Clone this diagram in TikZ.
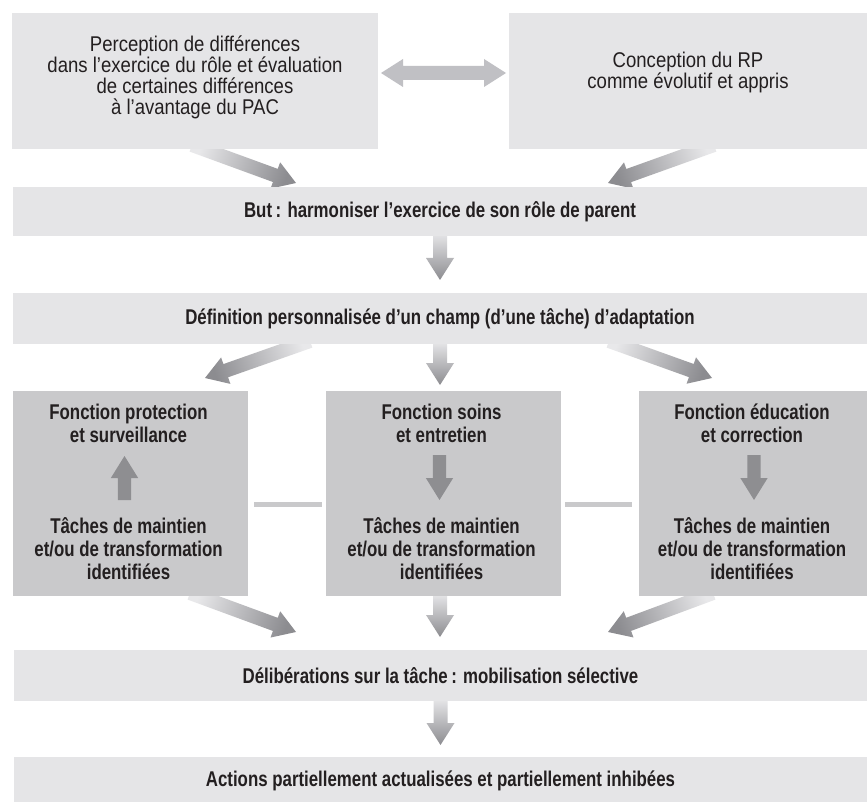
\documentclass[tikz,border=0pt]{standalone}
\usepackage{fontspec}
\setmainfont{Liberation Sans}[FakeStretch=0.87]
\newfontfamily\bdfamily{Liberation Sans}[FakeStretch=0.79]
\usetikzlibrary{calc}
\pgfdeclarelayer{background}
\pgfsetlayers{background,main}

\definecolor{boxlight}{HTML}{E5E5E7}
\definecolor{boxmid}{HTML}{C9C9CB}
\definecolor{ink}{HTML}{231F20}
\definecolor{arrowtail}{HTML}{E8E8EA}
\definecolor{arrowhead}{HTML}{8C8C90}
\definecolor{dblarrow}{HTML}{C0C0C4}
\definecolor{innerarrow}{HTML}{8E8E91}

% broad arrow with a light-to-dark shading from tail to tip
\newcommand\shadedarrow[2]{%
  \path let \p1=($(#2)-(#1)$), \n1={atan2(\y1,\x1)+90} in \pgfextra{\xdef\fatang{\n1}};
  \coordinate (fa-base) at ($(#2)!16.5pt!(#1)$);
  \shade[top color=arrowtail, bottom color=arrowhead, shading angle=\fatang]
    ($(#1)!5.25pt!-90:(#2)$) -- ($(fa-base)!5.25pt!-90:(#2)$) --
    ($(fa-base)!10.5pt!-90:(#2)$) -- (#2) -- ($(fa-base)!10.5pt!90:(#2)$) --
    ($(fa-base)!5.25pt!90:(#2)$) -- ($(#1)!5.25pt!90:(#2)$) -- cycle;}

% broad arrow with a flat fill
\newcommand\solidarrow[3]{%
  \coordinate (sa-base) at ($(#3)!16.5pt!(#2)$);
  \fill[#1]
    ($(#2)!5pt!-90:(#3)$) -- ($(sa-base)!5pt!-90:(#3)$) --
    ($(sa-base)!10.25pt!-90:(#3)$) -- (#3) -- ($(sa-base)!10.25pt!90:(#3)$) --
    ($(sa-base)!5pt!90:(#3)$) -- ($(#2)!5pt!90:(#3)$) -- cycle;}

\begin{document}
\begin{tikzpicture}[x=0.75pt, y=-0.75pt,
  box/.style={rectangle, inner sep=0pt, outer sep=0pt},
  lightbox/.style={box, fill=boxlight},
  midbox/.style={box, fill=boxmid},
  plain/.style={text=ink, align=center, font=\fontsize{16pt}{15.75pt}\selectfont},
  strong/.style={text=ink, align=center, font=\bdfamily\bfseries\fontsize{16pt}{17.25pt}\selectfont},
  link/.style={draw=boxmid, line width=3.75pt}]

\useasboundingbox (0,0) rectangle (867,802);
\begin{pgfonlayer}{background}
  \fill[white] (0,0) rectangle (867,802);
\end{pgfonlayer}

% --- boxes ---
\node[lightbox, minimum width=274.5pt, minimum height=102pt] (tl) at (195,81) {};
\node[lightbox, minimum width=268.5pt, minimum height=102pt] (tr) at (688,81) {};
\node[plain] (tltext) at ($(tl.center)+(0,-4)$)
  {Perception de différences\\dans l’exercice du rôle et évaluation\\de certaines différences\\à l’avantage du PAC};
\node[plain] (trtext) at ($(tr.center)+(0,-9)$)
  {Conception du RP\\comme évolutif et appris};
\node[lightbox, strong, minimum width=640.5pt, minimum height=36.75pt] (goal) at (440,211.5)
  {But\,: harmoniser l’exercice de son rôle de parent};
\node[lightbox, strong, minimum width=640.5pt, minimum height=38.25pt] (def) at (440,318.5)
  {Définition personnalisée d’un champ (d’une tâche) d’adaptation};

\node[midbox, minimum width=176.25pt, minimum height=153.75pt] (fp) at (130.5,493.5) {};
\node[midbox, minimum width=176.25pt, minimum height=153.75pt] (fs) at (443.5,493.5) {};
\node[midbox, minimum width=171pt, minimum height=153.75pt] (fe) at (753,493.5) {};

\node[strong] (fpt) at ($(fp.north)+(-2,32.5)$) {Fonction protection\\et surveillance};
\node[strong] (fst) at ($(fs.north)+(-2,32.5)$) {Fonction soins\\et entretien};
\node[strong] (fet) at ($(fe.north)+(-1,32.5)$) {Fonction éducation\\et correction};
\node[strong] (fpk) at ($(fp.south)+(-2,-47.5)$) {Tâches de maintien\\et/ou de transformation\\identifiées};
\node[strong] (fsk) at ($(fs.south)+(-2,-47.5)$) {Tâches de maintien\\et/ou de transformation\\identifiées};
\node[strong] (fek) at ($(fe.south)+(-1,-47.5)$) {Tâches de maintien\\et/ou de transformation\\identifiées};

\node[lightbox, strong, minimum width=639.75pt, minimum height=38.25pt] (delib) at (440.5,675.5)
  {Délibérations sur la tâche\,: mobilisation sélective};
\node[lightbox, strong, minimum width=639.75pt, minimum height=36pt] (act) at (440.5,781)
  {Actions partiellement actualisées et partiellement inhibées};

% --- two-way arrow between the upper boxes ---
\coordinate (dl) at ($(tl.east)+(3,-8)$);
\coordinate (dr) at ($(tr.west)+(-3,-8)$);
\fill[dblarrow] (dl) -- ($(dl)+(22,-14)$) -- ($(dl)+(22,-7)$) -- ($(dr)+(-22,-7)$) --
  ($(dr)+(-22,-14)$) -- (dr) -- ($(dr)+(-22,14)$) -- ($(dr)+(-22,7)$) --
  ($(dl)+(22,7)$) -- ($(dl)+(22,14)$) -- cycle;

% --- arrow end points ---
\coordinate (a1s) at ($(tl.south)+(-3,-4)$);
\coordinate (a1e) at ($(goal.north)+(-144,-4)$);
\coordinate (a2s) at ($(tr.south)+(26,-4)$);
\coordinate (a2e) at ($(goal.north)+(168,-4)$);
\coordinate (a3s) at ($(goal.south)+(0,-4)$);
\coordinate (a3e) at ($(def.north)+(0,-13)$);
\coordinate (b1s) at ($(def.south)+(-130,-3)$);
\coordinate (b1e) at ($(fp.north)+(74.5,-13)$);
\coordinate (b2s) at ($(def.south)+(0,-3)$);
\coordinate (b2e) at ($(fs.north)+(-3.5,-6)$);
\coordinate (b3s) at ($(def.south)+(169,-3)$);
\coordinate (b3e) at ($(fe.north)+(-41,-13)$);
\coordinate (c1s) at ($(fp.south)+(59.5,-3)$);
\coordinate (c1e) at ($(delib.north)+(-144.5,-18)$);
\coordinate (c2s) at ($(fs.south)+(-3.5,-3)$);
\coordinate (c2e) at ($(delib.north)+(-0.5,-13)$);
\coordinate (c3s) at ($(fe.south)+(-40,-3)$);
\coordinate (c3e) at ($(delib.north)+(167.5,-18)$);
\coordinate (d1s) at ($(delib.south)+(0,-3)$);
\coordinate (d1e) at ($(act.north)+(0,-12)$);

\begin{pgfonlayer}{background}
  \shadedarrow{a1s}{a1e}
  \shadedarrow{a2s}{a2e}
  \shadedarrow{a3s}{a3e}
  \shadedarrow{b1s}{b1e}
  \shadedarrow{b2s}{b2e}
  \shadedarrow{b3s}{b3e}
  \shadedarrow{c1s}{c1e}
  \shadedarrow{c2s}{c2e}
  \shadedarrow{c3s}{c3e}
  \shadedarrow{d1s}{d1e}
\end{pgfonlayer}

% --- arrows inside the function boxes ---
\coordinate (p1) at ($(fp.north)+(-6,109)$);
\coordinate (p2) at ($(fp.north)+(-6,65)$);
\coordinate (s1) at ($(fs.north)+(-4,64)$);
\coordinate (s2) at ($(fs.north)+(-4,109)$);
\coordinate (e1) at ($(fe.north)+(1,64)$);
\coordinate (e2) at ($(fe.north)+(1,109)$);
\solidarrow{innerarrow}{p1}{p2}
\solidarrow{innerarrow}{s1}{s2}
\solidarrow{innerarrow}{e1}{e2}

% --- links between the function boxes ---
\draw[link] ($(fp.east)+(6,10.5)$) -- ($(fs.west)+(-4,10.5)$);
\draw[link] ($(fs.east)+(4,10.5)$) -- ($(fe.west)+(-7,10.5)$);
\end{tikzpicture}
\end{document}
